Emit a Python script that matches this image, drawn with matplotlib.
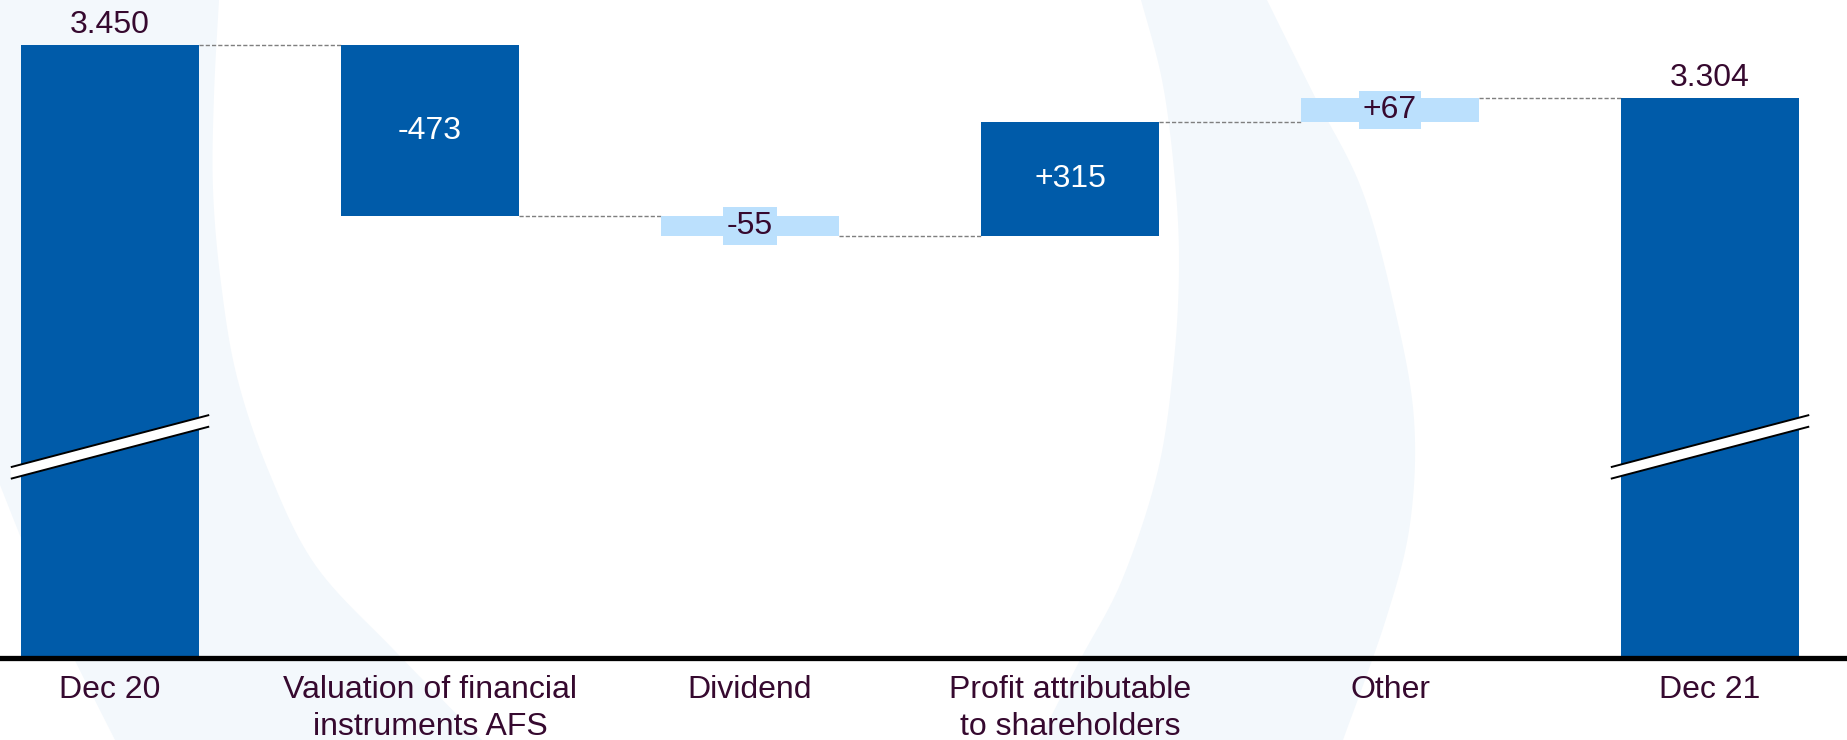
import matplotlib
matplotlib.use("Agg")
import numpy as np
from matplotlib import pyplot as plt
from matplotlib.patches import Polygon

plt.rcParams['font.family'] = ['Liberation Sans', 'DejaVu Sans']

# Data
categories = ['Dec 20', 'Valuation of financial\ninstruments AFS', 'Dividend',
              'Profit attributable\nto shareholders', 'Other', 'Dec 21']
start_value = 3450
deltas = [-473, -55, 315, 67]
end_value = 3304
bar_shades = ['dark', 'dark', 'light', 'dark', 'light', 'dark']

DARK = '#005BA9'
LIGHT = '#BBE0FD'
TEXT = '#36092F'
BG = '#F3F8FC'
FS = 23

fig = plt.figure(figsize=(18.47, 7.40), dpi=100)
fig.patch.set_facecolor('white')


def smooth(pts, n=12):
    # Catmull-Rom through the given points (open curve)
    p = np.array(pts, dtype=float)
    p = np.vstack([p[0], p, p[-1]])
    out = []
    for i in range(1, len(p) - 2):
        p0, p1, p2, p3 = p[i - 1], p[i], p[i + 1], p[i + 2]
        for t in np.linspace(0, 1, n, endpoint=False):
            t2, t3 = t * t, t * t * t
            out.append(0.5 * ((2 * p1) + (-p0 + p2) * t
                              + (2 * p0 - 5 * p1 + 4 * p2 - p3) * t2
                              + (-p0 + 3 * p1 - 3 * p2 + p3) * t3))
    out.append(p[-2])
    return np.array(out)


# Faint background shapes (pixel coords of the figure)
bg = fig.add_axes([0, 0, 1, 1], zorder=0)
bg.set_xlim(0, 1847)
bg.set_ylim(740, 0)
bg.axis('off')
left_outer = [(0, 485), (30, 560), (65, 640), (115, 740)]
left_inner = [(219, 0), (214, 95), (213, 189), (221, 283), (237, 377),
              (269, 472), (316, 566), (395, 651), (482, 740)]
band1 = np.vstack([[(0, 0)], smooth(left_inner), smooth(left_outer[::-1])])
mid_left = [(1141, 0), (1162, 80), (1174, 170), (1179, 260), (1174, 360),
            (1158, 470), (1122, 580), (1080, 660), (1039, 740)]
mid_right = [(1267, 0), (1314, 95), (1362, 190), (1395, 310), (1414, 419),
             (1410, 524), (1386, 619), (1343, 740)]
band2 = np.vstack([smooth(mid_left), smooth(mid_right)[::-1]])
for pts in (band1, band2):
    bg.add_patch(Polygon(pts, closed=True, facecolor=BG, edgecolor='none'))

ax = fig.add_axes([0, 82 / 740, 1, 658 / 740], zorder=1)
ax.patch.set_alpha(0)

y_floor = 1757
ax.set_xlim(-0.34375, 5.428)
ax.set_ylim(y_floor, 3574)

width = 0.556
xs = list(range(len(categories)))

# running levels
levels = [start_value]
for d in deltas:
    levels.append(levels[-1] + d)

bottoms = [y_floor]
heights = [start_value - y_floor]
for i, d in enumerate(deltas):
    bottoms.append(min(levels[i], levels[i + 1]))
    heights.append(abs(d))
bottoms.append(y_floor)
heights.append(end_value - y_floor)

colors = [DARK if s == 'dark' else LIGHT for s in bar_shades]
ax.bar(xs, heights, width=width, bottom=bottoms, color=colors, zorder=3)

# dashed connectors
for i in range(len(xs) - 1):
    ax.plot([xs[i] + width / 2, xs[i + 1] - width / 2], [levels[i], levels[i]],
            color='#7f7f7f', lw=1, ls=(0, (3, 1.5)), zorder=2)

# labels
def fmt_total(v):
    return f"{v:,}".replace(',', '.')

for x, v in ((xs[0], start_value), (xs[-1], end_value)):
    ax.annotate(fmt_total(v), (x, v), xytext=(0, 8.6), textcoords='offset points',
                ha='center', va='baseline', fontsize=FS, color=TEXT)

for i, d in enumerate(deltas):
    x = xs[i + 1]
    yc = bottoms[i + 1] + heights[i + 1] / 2
    if bar_shades[i + 1] == 'dark':
        ax.text(x, yc, f"{d:+d}", ha='center', va='center', fontsize=FS,
                color='white', zorder=4)
    else:
        ax.text(x, yc, f"{d:+d}", ha='center', va='center', fontsize=FS,
                color=TEXT, zorder=4,
                bbox=dict(boxstyle='square,pad=0.12', fc=LIGHT, ec='none'))

# axis break marks on the total bars
def draw_break(xc, yc, half_w=0.31, rise=72, gap=16):
    top = [(xc - half_w, yc - rise + gap), (xc + half_w, yc + rise + gap)]
    bot = [(xc - half_w, yc - rise - gap), (xc + half_w, yc + rise - gap)]
    ax.add_patch(Polygon(top + bot[::-1], closed=True, facecolor='white',
                         edgecolor='none', zorder=5, clip_on=False))
    for line in (top, bot):
        ax.plot([p[0] for p in line], [p[1] for p in line], color='black',
                lw=1.4, zorder=6, solid_capstyle='butt')

break_level = 2340
draw_break(xs[0], break_level)
draw_break(xs[-1], break_level)

# axes styling
for s in ('left', 'top', 'right'):
    ax.spines[s].set_visible(False)
ax.spines['bottom'].set_linewidth(3.8)
ax.spines['bottom'].set_color('black')
ax.spines['bottom'].set_zorder(7)
ax.set_yticks([])
ax.set_xticks(xs)
ax.set_xticklabels(categories, fontsize=FS, color=TEXT, linespacing=1.3)
ax.tick_params(axis='x', length=0, pad=12)

fig.savefig('out.png', dpi=100)
